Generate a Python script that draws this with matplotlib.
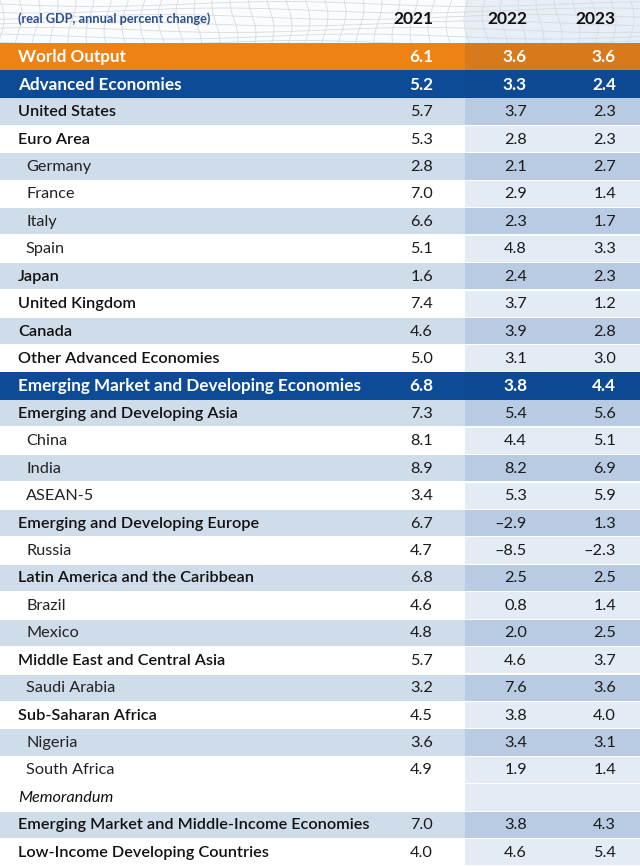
import matplotlib
matplotlib.use("Agg")
import matplotlib.pyplot as plt
from matplotlib.patches import Rectangle
import numpy as np

# ---------------- data ----------------
years = ["2021", "2022", "2023"]
subtitle = "(real GDP, annual percent change)"
labels = [
    "World Output", "Advanced Economies", "United States", "Euro Area",
    "Germany", "France", "Italy", "Spain", "Japan", "United Kingdom", "Canada",
    "Other Advanced Economies", "Emerging Market and Developing Economies",
    "Emerging and Developing Asia", "China", "India", "ASEAN-5",
    "Emerging and Developing Europe", "Russia", "Latin America and the Caribbean",
    "Brazil", "Mexico", "Middle East and Central Asia", "Saudi Arabia",
    "Sub-Saharan Africa", "Nigeria", "South Africa", "Memorandum",
    "Emerging Market and Middle-Income Economies", "Low-Income Developing Countries",
]
v2021 = [6.1, 5.2, 5.7, 5.3, 2.8, 7.0, 6.6, 5.1, 1.6, 7.4, 4.6, 5.0, 6.8, 7.3, 8.1,
         8.9, 3.4, 6.7, 4.7, 6.8, 4.6, 4.8, 5.7, 3.2, 4.5, 3.6, 4.9, None, 7.0, 4.0]
v2022 = [3.6, 3.3, 3.7, 2.8, 2.1, 2.9, 2.3, 4.8, 2.4, 3.7, 3.9, 3.1, 3.8, 5.4, 4.4,
         8.2, 5.3, -2.9, -8.5, 2.5, 0.8, 2.0, 4.6, 7.6, 3.8, 3.4, 1.9, None, 3.8, 4.6]
v2023 = [3.6, 2.4, 2.3, 2.3, 2.7, 1.4, 1.7, 3.3, 2.3, 1.2, 2.8, 3.0, 4.4, 5.6, 5.1,
         6.9, 5.9, 1.3, -2.3, 2.5, 1.4, 2.5, 3.7, 3.6, 4.0, 3.1, 1.4, None, 4.3, 5.4]
# row kind: W=world, M=major aggregate, G=group, C=country (indented), I=italic memo
kinds = list("WMGGCCCCGGGGMGCCCGCGCCGCGCCIGG")
# shading: s=shaded, w=white, x=special
shade = list("xxswswswswswxswswswswswswswwsw")

# ---------------- style ----------------
W, H = 640, 866
fig = plt.figure(figsize=(W / 100, H / 100), dpi=100)
ax = fig.add_axes([0, 0, 1, 1])
ax.set_xlim(0, W)
ax.set_ylim(H, 0)
ax.axis("off")

FONT = "Lato"
top = 43.0
n = len(labels)
rh = (H - top) / n
xsplit = 465
xcols = [433, 527, 616]

c_orange, c_orange2 = "#ef8214", "#d8791c"
c_blue, c_blue2 = "#0d4b97", "#0d4a93"
c_sh, c_sh2 = "#cfdcea", "#b8cbe2"
c_wh, c_wh2 = "#ffffff", "#e3ebf4"

# header background with faint grid texture
ax.add_patch(Rectangle((0, 0), W, top, facecolor="#fbfcfd", edgecolor="none", zorder=0))
ax.add_patch(Rectangle((xsplit, 0), W - xsplit, top, facecolor="#e7eef6", edgecolor="none", zorder=0))
tt = np.linspace(0, W, 200)
for k in range(7):
    ax.plot(tt, 4 + k * 6.5 + 2.5 * np.sin(tt / 60 + k), color="#d6dae1", lw=0.6, zorder=0.5)
for k in range(0, W, 18):
    ys = np.linspace(0, top, 30)
    ax.plot(k + 4 * np.sin(ys / 12 + k / 50), ys, color="#d6dae1", lw=0.6, zorder=0.5)

ax.text(18, 19, subtitle, ha="left", va="center", fontsize=9.2, fontweight="bold",
        color="#2b4f8e", family=FONT)
for x, yl in zip(xcols, years):
    ax.text(x, 19.5, yl, ha="right", va="center", fontsize=12.5, fontweight="bold",
            color="#111111", family=FONT)

def fmt(v):
    if v is None:
        return ""
    return f"{v:.1f}".replace("-", "–")

for i, (lab, a, b, c, k, s) in enumerate(zip(labels, v2021, v2022, v2023, kinds, shade)):
    y0 = top + i * rh
    if k == "W":
        f1, f2 = c_orange, c_orange2
    elif k == "M":
        f1, f2 = c_blue, c_blue2
    elif s == "s":
        f1, f2 = c_sh, c_sh2
    else:
        f1, f2 = c_wh, c_wh2
    gap = 0 if k in "WM" else 1.2
    ax.add_patch(Rectangle((0, y0 + gap / 2), xsplit, rh - gap, facecolor=f1, edgecolor="none", zorder=1))
    ax.add_patch(Rectangle((xsplit, y0 + gap / 2), W - xsplit, rh - gap, facecolor=f2, edgecolor="none", zorder=1))
    yc = y0 + rh / 2 + 0.5
    if k in "WM":
        kw = dict(fontweight="bold", color="white", fontsize=12.3)
        x0 = 18
    elif k == "C":
        kw = dict(fontweight="normal", color="#222222", fontsize=11.7)
        x0 = 26
    elif k == "I":
        kw = dict(fontweight="normal", style="italic", color="#111111", fontsize=11.7)
        x0 = 18
    else:
        kw = dict(fontweight="semibold", color="#111111", fontsize=11.7)
        x0 = 18
    ax.text(x0, yc, lab, ha="left", va="center", family=FONT, zorder=3, **kw)
    vkw = dict(kw)
    vkw.pop("style", None)
    if k not in "WM":
        vkw["fontweight"] = "normal"
        vkw["color"] = "#1a1a1a"
    for x, v in zip(xcols, (a, b, c)):
        ax.text(x, yc, fmt(v), ha="right", va="center", family=FONT, zorder=3, **vkw)

fig.savefig("out.png", dpi=100)
